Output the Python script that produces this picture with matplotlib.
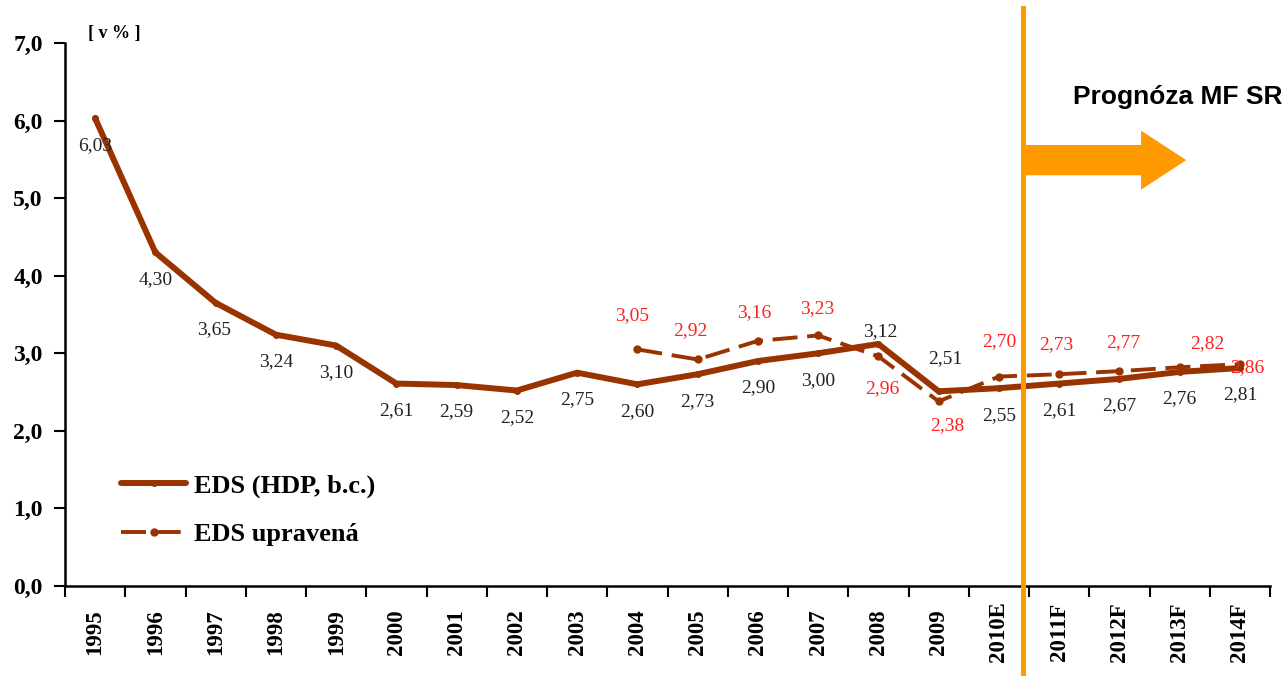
"""
EDS chart with MF SR forecast
"""
import matplotlib
matplotlib.use("Agg")
import matplotlib.pyplot as plt
from matplotlib.patches import FancyArrow

#data
years = ["1995", "1996", "1997", "1998", "1999", "2000", "2001", "2002", "2003",
         "2004", "2005", "2006", "2007", "2008", "2009", "2010E", "2011F",
         "2012F", "2013F", "2014F"]
eds = [6.03, 4.30, 3.65, 3.24, 3.10, 2.61, 2.59, 2.52, 2.75, 2.60, 2.73, 2.90,
       3.00, 3.12, 2.51, 2.55, 2.61, 2.67, 2.76, 2.81]
eds_adj_years = years[9:]
eds_adj = [3.05, 2.92, 3.16, 3.23, 2.96, 2.38, 2.70, 2.73, 2.77, 2.82, 2.86]
forecast_split = 15.4
arrow_level = 5.49

brown = "#993300"
orange = "#FF9900"
plt.rcParams["font.family"] = ["Liberation Serif", "DejaVu Serif"]
plt.rcParams["lines.scale_dashes"] = False

fig = plt.figure(figsize=(12.87, 6.76), dpi=100)
ax = fig.add_axes([65 / 1287, 90 / 676, 1205 / 1287, 543 / 676])

xs = list(range(len(years)))
xs_adj = [years.index(y) for y in eds_adj_years]

ax.plot(xs, eds, color=brown, lw=4.3, marker="o", ms=4,
        label="EDS (HDP, b.c.)", solid_capstyle="round")
dashed, = ax.plot(xs_adj, eds_adj, color=brown, lw=2.8, marker="o", ms=5,
                  label="EDS upravená")
dashed.set_dashes((18, 7))

#data labels (offsets in px, up positive)
black_off = {2: (-2, -27), 13: (2, 12), 14: (7, 33)}
for i, v in enumerate(eds):
    dx, dy = black_off.get(i, (0, -27))
    ax.annotate(f"{v:.2f}".replace(".", ","), (i, v),
                xytext=(dx * 0.72, dy * 0.72), textcoords="offset points",
                ha="center", va="center", fontsize=14, color="#222222")

red_off = [(-5, 34), (-7, 29), (-4, 28), (-1, 27), (4, -32), (9, -24),
           (0, 35), (-3, 30), (4, 29), (28, 24), (7, -3)]
for x, v, (dx, dy) in zip(xs_adj, eds_adj, red_off):
    ax.annotate(f"{v:.2f}".replace(".", ","), (x, v),
                xytext=(dx * 0.72, dy * 0.72), textcoords="offset points",
                ha="center", va="center", fontsize=14, color="#FF2020")

#forecast marker
ax.axvline(forecast_split, ymin=-0.166, ymax=1.064, color=orange, lw=3.6,
           clip_on=False, zorder=5)
ax.add_patch(FancyArrow(forecast_split, arrow_level, 2.71, 0, width=0.39,
                        head_width=0.76, head_length=0.75,
                        length_includes_head=True, color=orange, lw=0,
                        zorder=5))
fig.text(1178 / 1287, 1 - 97 / 676, "Prognóza MF SR", ha="center",
         va="center", fontsize=19, fontweight="bold",
         family=["Liberation Sans", "DejaVu Sans"])
ax.text(-0.12, 1.018, "[ v % ]", transform=ax.get_xaxis_transform(),
        fontsize=13, fontweight="bold", va="center", ha="left")

#axes
ax.set_xlim(-0.5, len(years) - 0.5)
ax.set_ylim(0, 7)
ax.set_yticks(range(8))
ax.set_yticklabels([f"{t},0" for t in range(8)], fontsize=17,
                   fontweight="bold")
ax.tick_params(axis="y", length=8, width=1.5, pad=8)
ax.set_xticks([i - 0.5 for i in range(len(years) + 1)])
ax.set_xticklabels([])
ax.set_xticks(xs, minor=True)
ax.set_xticklabels(years, minor=True, rotation=90, va="center",
                   fontsize=16.5, fontweight="bold")
ax.tick_params(axis="x", which="major", length=8, width=1.5)
ax.tick_params(axis="x", which="minor", length=0, pad=33)
for side in ["top", "right"]:
    ax.spines[side].set_visible(False)
for side in ["left", "bottom"]:
    ax.spines[side].set_linewidth(1.8)

#legend
leg = ax.legend(loc="center left", bbox_to_anchor=(0.027, 0.14),
                frameon=False, handlelength=2.45, handletextpad=0.3,
                labelspacing=0.95, prop={"size": 19, "weight": "bold"})

fig.savefig("out.png", dpi=100)
